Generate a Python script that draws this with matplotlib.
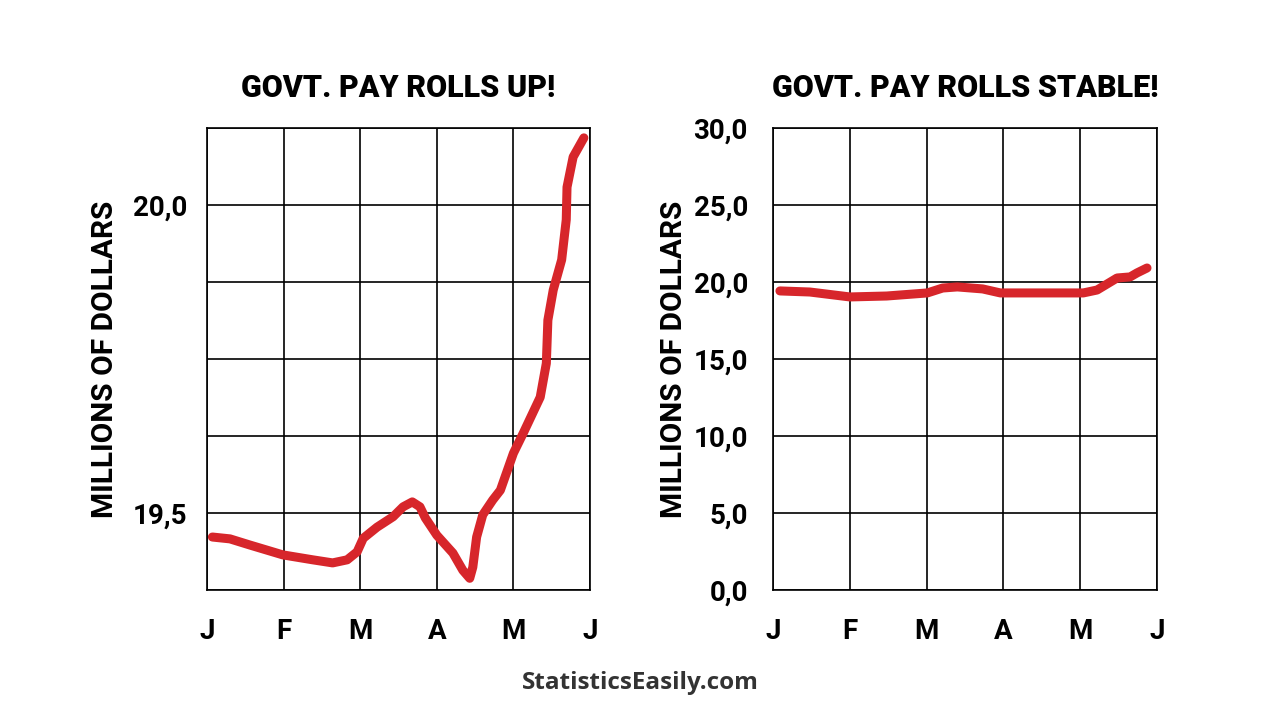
import matplotlib
matplotlib.use('Agg')
import matplotlib.pyplot as plt
from matplotlib import font_manager

# month labels shared by both panels
months = ['J', 'F', 'M', 'A', 'M', 'J']

# left panel: zoomed axis
up_x = [0.07, 0.30, 0.56, 0.99, 1.38, 1.64, 1.83, 1.96, 2.04, 2.22, 2.43, 2.56,
        2.68, 2.78, 2.85, 3.00, 3.21, 3.34, 3.43, 3.47, 3.52, 3.60, 3.73, 3.83,
        4.00, 4.13, 4.35, 4.43, 4.45, 4.52, 4.63, 4.69, 4.70, 4.78, 4.92]
up_y = [19.461, 19.458, 19.448, 19.432, 19.424, 19.419, 19.424, 19.437, 19.459,
        19.477, 19.494, 19.510, 19.518, 19.510, 19.492, 19.464, 19.435, 19.407,
        19.394, 19.412, 19.461, 19.497, 19.521, 19.537, 19.597, 19.630, 19.688,
        19.743, 19.813, 19.862, 19.911, 19.976, 20.029, 20.078, 20.109]
up_grid = [19.375, 19.5, 19.625, 19.75, 19.875, 20.0, 20.125]
up_labels = ['', '19,5', '', '', '', '20,0', '']

# right panel: full axis from zero
stable_x = [0.09, 0.48, 1.00, 1.48, 2.01, 2.21, 2.40, 2.73, 2.96, 3.44, 4.04,
            4.22, 4.48, 4.65, 4.74, 4.87]
stable_y = [19.42, 19.35, 19.03, 19.09, 19.29, 19.61, 19.68, 19.55, 19.29, 19.29,
            19.29, 19.48, 20.26, 20.33, 20.59, 20.91]
stable_grid = [0, 5, 10, 15, 20, 25, 30]
stable_labels = ['0,0', '5,0', '10,0', '15,0', '20,0', '25,0', '30,0']

titles = ['GOVT. PAY ROLLS UP!', 'GOVT. PAY ROLLS STABLE!']

installed = {f.name for f in font_manager.fontManager.ttflist}
tick_font = 'Roboto' if 'Roboto' in installed else 'DejaVu Sans'
title_font = tick_font
footer_font = 'Open Sans' if 'Open Sans' in installed else 'DejaVu Sans'

RED = '#d7262b'

fig = plt.figure(figsize=(12.8, 7.2), dpi=100)
fig.patch.set_facecolor('white')

ax1 = fig.add_axes([207 / 1280, 130 / 720, 383 / 1280, 462 / 720])
ax2 = fig.add_axes([773 / 1280, 130 / 720, 384 / 1280, 462 / 720])


def style_panel(ax, grid, labels, title, ypad, lpad):
    ax.set_xlim(0, 5)
    ax.set_ylim(grid[0], grid[-1])
    ax.set_xticks(range(6))
    ax.set_xticklabels(months, fontsize=20, fontfamily=tick_font, fontweight='bold')
    ax.set_yticks(grid)
    ax.set_yticklabels(labels, fontsize=20, fontfamily=tick_font, fontweight='bold')
    ax.tick_params(length=0)
    ax.tick_params(axis='x', pad=20)
    ax.tick_params(axis='y', pad=ypad)
    ax.grid(True, color='black', linewidth=1.2)
    for s in ax.spines.values():
        s.set_color('black')
        s.set_linewidth(1.2)
    ax.set_axisbelow(True)
    ax.set_ylabel('MILLIONS OF DOLLARS', fontsize=21.5, fontfamily=tick_font,
                  fontweight='bold', labelpad=lpad)
    ax.set_title(title, fontsize=22, fontfamily=title_font, fontweight='heavy',
                 pad=22)


ax1.plot(up_x, up_y, color=RED, linewidth=6.5, solid_capstyle='round',
         solid_joinstyle='round')
style_panel(ax1, up_grid, up_labels, titles[0], 14, 10)

ax2.plot(stable_x, stable_y, color=RED, linewidth=6.5, solid_capstyle='round',
         solid_joinstyle='round')
style_panel(ax2, stable_grid, stable_labels, titles[1], 18, 4)

fig.text(0.5, 1 - 683 / 720, 'StatisticsEasily.com', ha='center', va='center',
         fontsize=17.5, fontfamily=footer_font, fontweight='bold', color='#333333')

fig.savefig('out.png', dpi=100, facecolor='white')
